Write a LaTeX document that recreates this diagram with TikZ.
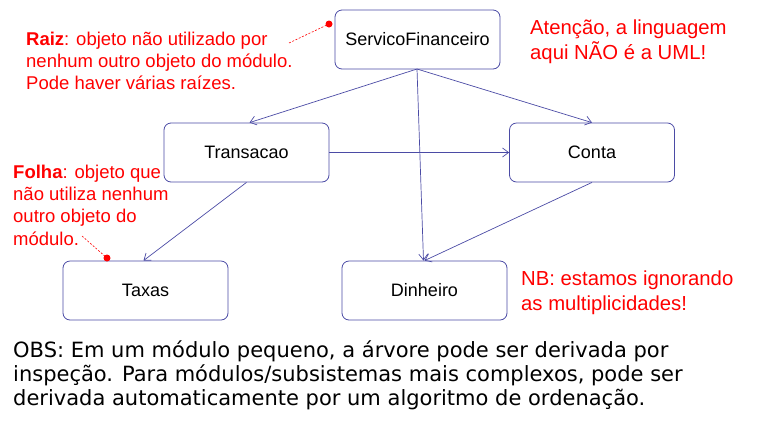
\documentclass[tikz,border=0pt]{standalone}
\usepackage{fontspec}
\setmainfont{Liberation Sans}
\newfontfamily\obsfont{DejaVu Sans}
\usetikzlibrary{arrows.meta}
\definecolor{edge}{RGB}{75,75,165}
\definecolor{note}{RGB}{255,0,0}
\tikzset{
  cls/.style={draw=edge, rounded corners=7pt, minimum width=165pt, minimum height=59pt, inner sep=0pt, font=\fontsize{18}{21}\selectfont, line width=0.8pt},
  dep/.style={draw=edge, line width=0.7pt, -{Straight Barb[length=6pt,width=9pt]}},
  rednote/.style={text=note, font=\fontsize{18.5}{22.3}\selectfont, align=left, anchor=north west, inner sep=0pt},
  bignote/.style={rednote, font=\fontsize{20.3}{24.5}\selectfont},
  pin/.style={draw=note, dash pattern=on 2pt off 1.6pt, line width=0.6pt},
  pindot/.style={fill=note, circle, inner sep=0pt, minimum size=7pt}
}
\begin{document}
\begin{tikzpicture}[x=1pt,y=-1pt]
\useasboundingbox (0,0) rectangle (784,424);
\node[cls] (sf) at (417.5,39.5) {ServicoFinanceiro};
\node[cls] (tr) at (246.5,152.5) {Transacao};
\node[cls] (co) at (592,152.5) {Conta};
\node[cls] (tx) at (145.5,290.5) {Taxas};
\node[cls] (di) at (424.5,290.5) {Dinheiro};
\coordinate (sfb) at (417,69);
\draw[dep] (sfb) -- ([xshift=3pt]tr.north);
\draw[dep] (sfb) -- (co.north);
\draw[dep] (sfb) -- ([xshift=-1pt]di.north);
\draw[dep] (tr.east) -- (co.west);
\draw[dep] (tr.south) -- ([xshift=-2pt]tx.north);
\draw[dep] (co.south) -- (di.north);
\node[rednote] (raiz) at (26,31.5) {\textbf{Raiz}: objeto não utilizado por\\nenhum outro objeto do módulo.\\Pode haver várias raízes.};
\node[pindot] (rdot) at (329,24) {};
\coordinate (rend) at (289,43);
\draw[pin] (rend) -- (rdot.center);
\node[rednote] (folha) at (13,164.6) {\textbf{Folha}: objeto que\\não utiliza nenhum\\outro objeto do\\módulo.};
\node[pindot] (fdot) at (107,258) {};
\coordinate (fend) at (82,236);
\draw[pin] (fend) -- (fdot.center);
\node[bignote] (aten) at (530,20) {Atenção, a linguagem\\aqui NÃO é a UML!};
\node[bignote] (nb) at (521,271) {NB: estamos ignorando\\as multiplicidades!};
\node[anchor=north west, inner sep=0pt, align=left, font=\obsfont\fontsize{21}{24}\selectfont] (obs) at (13,340) {OBS: Em um módulo pequeno, a árvore pode ser derivada por\\inspeção. Para módulos/subsistemas mais complexos, pode ser\\derivada automaticamente por um algoritmo de ordenação.};
\end{tikzpicture}
\end{document}
